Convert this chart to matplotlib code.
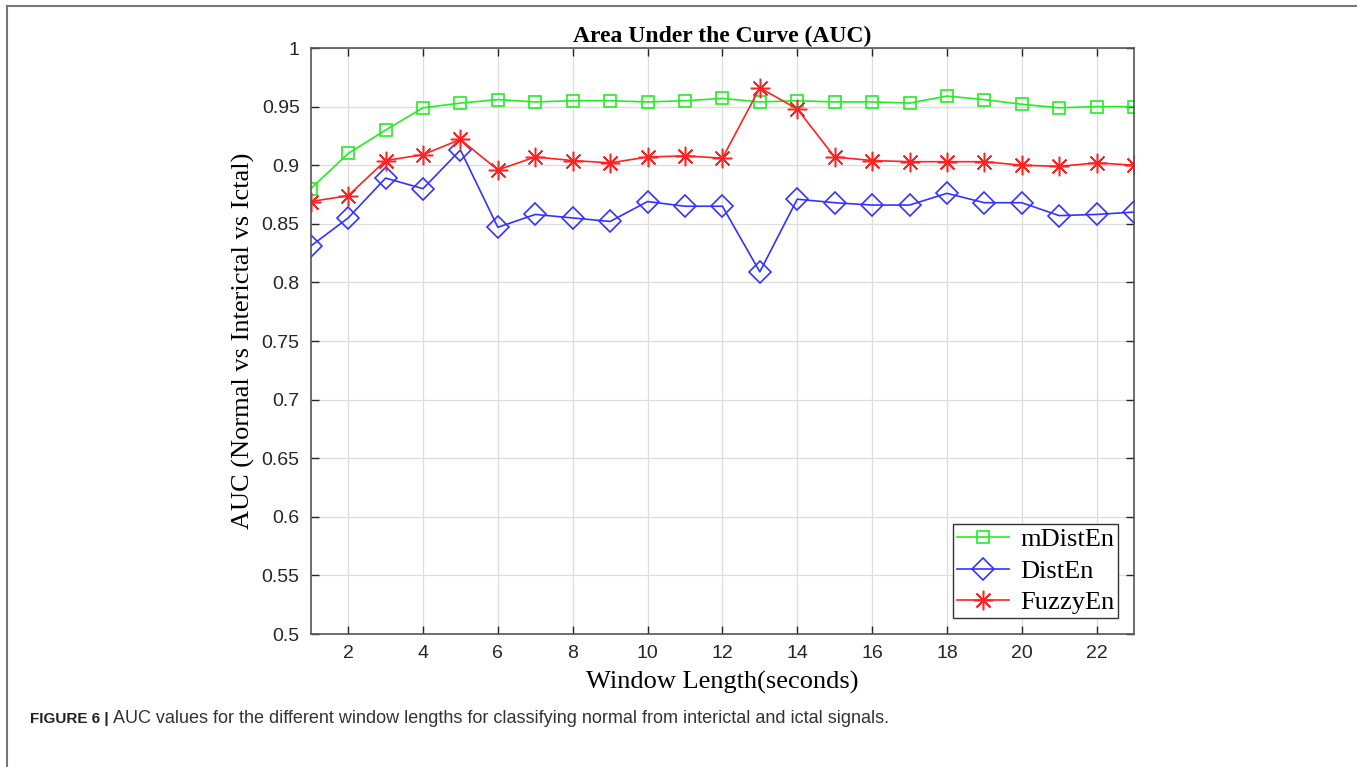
import numpy as np
import matplotlib.pyplot as plt
from matplotlib.lines import Line2D

window = np.arange(1, 24)
mDistEn = [0.880, 0.910, 0.930, 0.949, 0.953, 0.956, 0.954, 0.955, 0.955, 0.954, 0.955, 0.957,
           0.954, 0.955, 0.954, 0.954, 0.953, 0.959, 0.956, 0.952, 0.949, 0.950, 0.950]
DistEn = [0.831, 0.855, 0.889, 0.880, 0.913, 0.847, 0.858, 0.855, 0.852, 0.869, 0.865, 0.865,
          0.809, 0.871, 0.868, 0.866, 0.866, 0.876, 0.868, 0.868, 0.857, 0.858, 0.860]
FuzzyEn = [0.869, 0.874, 0.904, 0.909, 0.922, 0.896, 0.907, 0.904, 0.902, 0.907, 0.908, 0.906,
           0.966, 0.948, 0.907, 0.904, 0.903, 0.903, 0.903, 0.900, 0.899, 0.902, 0.900]

serif = "Liberation Serif"
sans = "Liberation Sans"

fig = plt.figure(figsize=(13.57, 7.67), dpi=100)
ax = fig.add_axes([0.229, 0.1734, 0.6067, 0.764])

ax.plot(window, mDistEn, color="#22ee22", marker="s", ms=9, mfc="none", mew=1.2, lw=1.2, label="mDistEn")
ax.plot(window, DistEn, color="#3333ff", marker="D", ms=11, mfc="none", mew=1.2, lw=1.2, label="DistEn")
ax.plot(window, FuzzyEn, color="#ff2222", marker=(8, 2, 0), ms=14, mew=1.1, lw=1.2, label="FuzzyEn")

ax.set_xlim(1, 23)
ax.set_ylim(0.5, 1)
ax.set_xticks(np.arange(2, 24, 2))
ax.set_yticks(np.arange(0.5, 1.001, 0.05))
ax.set_yticklabels(["0.5", "0.55", "0.6", "0.65", "0.7", "0.75", "0.8", "0.85", "0.9", "0.95", "1"])
ax.tick_params(direction="in", top=True, right=True, length=6, width=1, colors="#262626",
               labelsize=14, pad=8)
for lab in ax.get_xticklabels() + ax.get_yticklabels():
    lab.set_fontfamily(sans)
ax.grid(color="#dddddd", lw=0.9)
ax.set_axisbelow(True)
for s in ax.spines.values():
    s.set_color("#555555")
    s.set_linewidth(1.2)

ax.set_title("Area Under the Curve (AUC)", fontfamily=serif, fontweight="bold", fontsize=17, pad=4)
ax.set_xlabel("Window Length(seconds)", fontfamily=serif, fontsize=19, labelpad=6)
ax.set_ylabel("AUC (Normal vs Interictal vs Ictal)", fontfamily=serif, fontsize=19, labelpad=5)

leg = ax.legend(loc="lower right", prop={"family": serif, "size": 19}, fancybox=False,
                framealpha=1, edgecolor="#333333", borderaxespad=0.6, handlelength=2.0,
                borderpad=0.15, labelspacing=0.3, handletextpad=0.4)
leg.get_frame().set_linewidth(1.0)

fig.text(0.022, 0.058, "FIGURE 6 |", fontfamily=sans, fontweight="bold", fontsize=11, color="#222222")
fig.text(0.0835, 0.058, "AUC values for the different window lengths for classifying normal from interictal and ictal signals.",
         fontfamily=sans, fontsize=13, color="#333333")

# outer frame of the figure panel
fig.add_artist(Line2D([0.005, 0.005], [0.0, 0.992], transform=fig.transFigure, color="#777777", lw=1.5))
fig.add_artist(Line2D([0.005, 1.0], [0.992, 0.992], transform=fig.transFigure, color="#777777", lw=1.5))

fig.savefig("out.png", dpi=100)
